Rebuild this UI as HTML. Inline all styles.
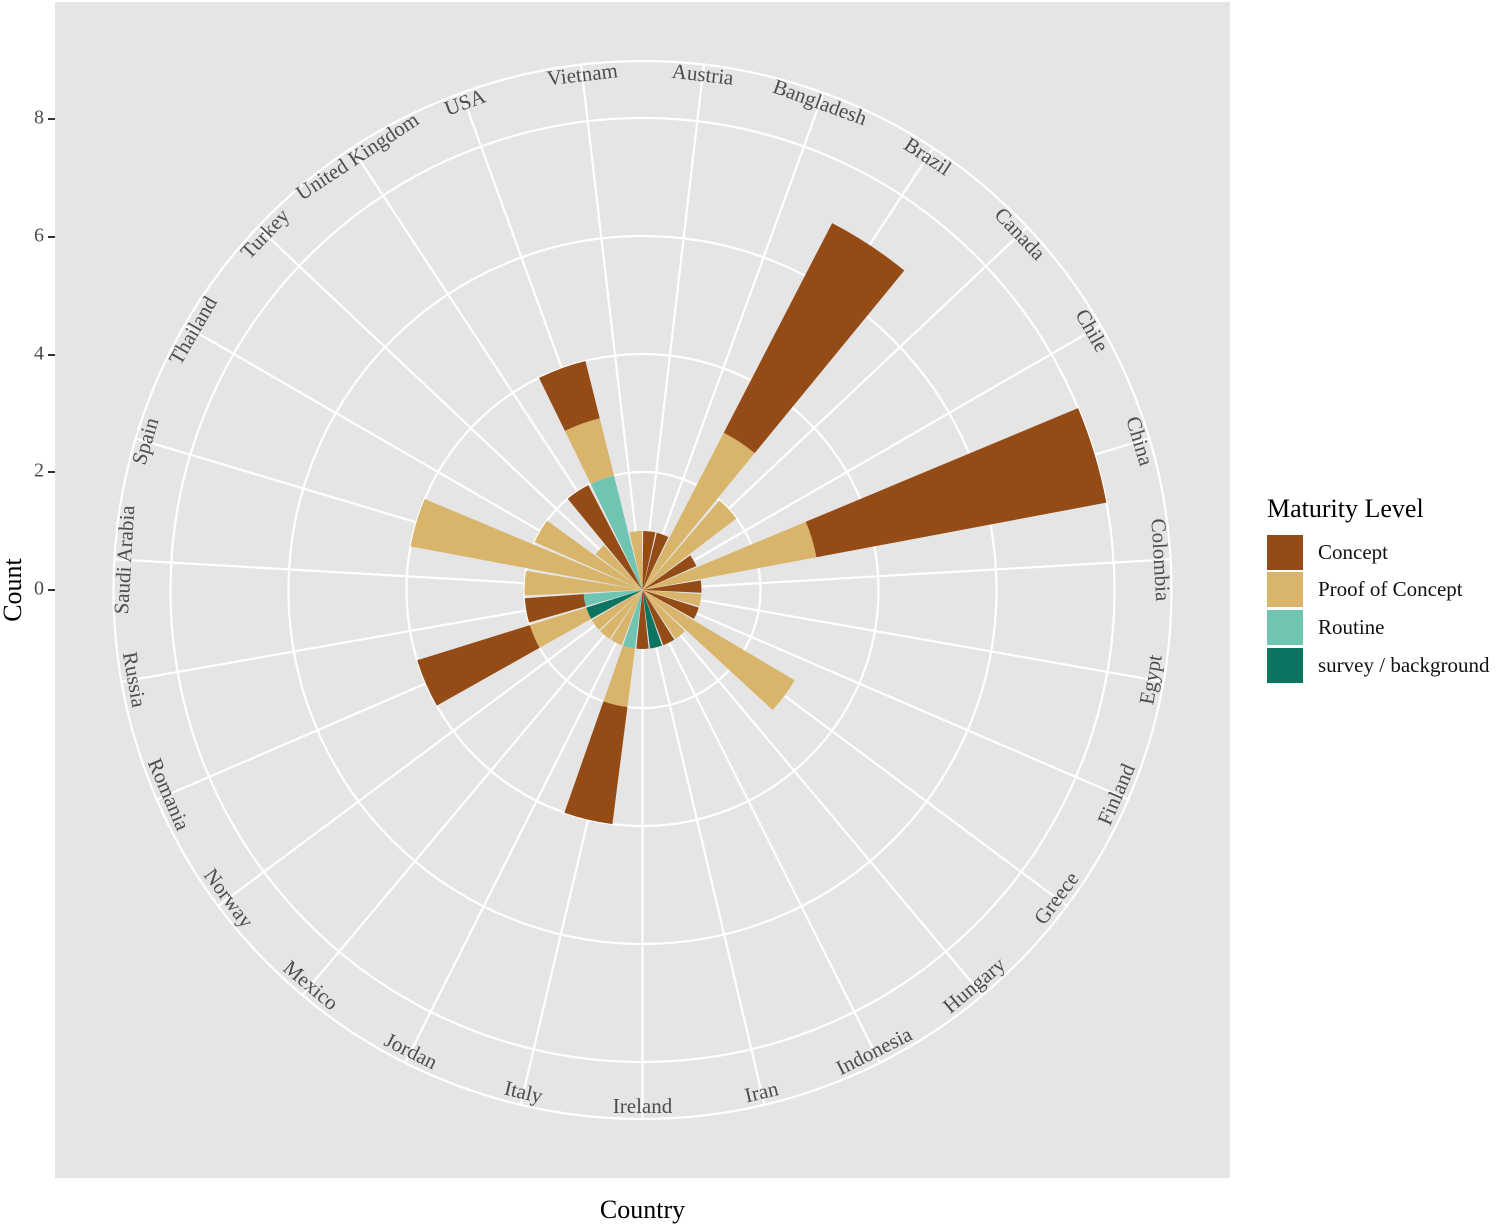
<!DOCTYPE html>
<html><head><meta charset="utf-8"><style>
html,body{margin:0;padding:0;background:#fff;}
svg{display:block;font-family:"Liberation Serif",serif;}
</style></head><body>
<svg id="s" width="1503" height="1226" viewBox="0 0 1503 1226" xmlns="http://www.w3.org/2000/svg">
<rect x="55" y="2" width="1175" height="1176" fill="#e5e5e5"/>
<g id="grid" stroke="#fff" fill="none" stroke-width="2.2">
<circle cx="642.5" cy="590" r="118"/>
<circle cx="642.5" cy="590" r="236"/>
<circle cx="642.5" cy="590" r="354"/>
<circle cx="642.5" cy="590" r="472"/>
<circle cx="642.5" cy="590" r="529"/>
</g>
<g id="spokes" stroke="#fff" stroke-width="2.2"></g>
<g id="bars"></g>
<g font-size="21" fill="#4d4d4d" text-anchor="middle" dominant-baseline="middle">
<text x="642.5" y="73" transform="rotate(6.667 642.5 590)">Austria</text>
<text x="642.5" y="73" transform="rotate(20 642.5 590)">Bangladesh</text>
<text x="642.5" y="73" transform="rotate(33.333 642.5 590)">Brazil</text>
<text x="642.5" y="73" transform="rotate(46.667 642.5 590)">Canada</text>
<text x="642.5" y="73" transform="rotate(60 642.5 590)">Chile</text>
<text x="642.5" y="73" transform="rotate(73.333 642.5 590)">China</text>
<text x="642.5" y="73" transform="rotate(86.667 642.5 590)">Colombia</text>
<text x="642.5" y="1108" transform="rotate(-80 642.5 590)">Egypt</text>
<text x="642.5" y="1108" transform="rotate(-66.667 642.5 590)">Finland</text>
<text x="642.5" y="1108" transform="rotate(-53.333 642.5 590)">Greece</text>
<text x="642.5" y="1108" transform="rotate(-40 642.5 590)">Hungary</text>
<text x="642.5" y="1108" transform="rotate(-26.667 642.5 590)">Indonesia</text>
<text x="642.5" y="1108" transform="rotate(-13.333 642.5 590)">Iran</text>
<text x="642.5" y="1108">Ireland</text>
<text x="642.5" y="1108" transform="rotate(13.333 642.5 590)">Italy</text>
<text x="642.5" y="1108" transform="rotate(26.667 642.5 590)">Jordan</text>
<text x="642.5" y="1108" transform="rotate(40 642.5 590)">Mexico</text>
<text x="642.5" y="1108" transform="rotate(53.333 642.5 590)">Norway</text>
<text x="642.5" y="1108" transform="rotate(66.667 642.5 590)">Romania</text>
<text x="642.5" y="1108" transform="rotate(80 642.5 590)">Russia</text>
<text x="642.5" y="73" transform="rotate(-86.667 642.5 590)">Saudi Arabia</text>
<text x="642.5" y="73" transform="rotate(-73.333 642.5 590)">Spain</text>
<text x="642.5" y="73" transform="rotate(-60 642.5 590)">Thailand</text>
<text x="642.5" y="73" transform="rotate(-46.667 642.5 590)">Turkey</text>
<text x="642.5" y="73" transform="rotate(-33.333 642.5 590)">United Kingdom</text>
<text x="642.5" y="73" transform="rotate(-20 642.5 590)">USA</text>
<text x="642.5" y="73" transform="rotate(-6.667 642.5 590)">Vietnam</text>
</g>
<g stroke="#333" stroke-width="2">
<line x1="48" y1="119" x2="55" y2="119"/><line x1="48" y1="237" x2="55" y2="237"/>
<line x1="48" y1="355" x2="55" y2="355"/><line x1="48" y1="472" x2="55" y2="472"/>
<line x1="48" y1="590" x2="55" y2="590"/>
</g>
<g font-size="20" fill="#4d4d4d" text-anchor="end" dominant-baseline="middle">
<text x="44" y="119">8</text><text x="44" y="237">6</text><text x="44" y="355">4</text>
<text x="44" y="472">2</text><text x="44" y="590">0</text>
</g>
<text x="642.5" y="1218" font-size="26" text-anchor="middle">Country</text>
<text x="0" y="0" font-size="26" text-anchor="middle" transform="translate(21 590) rotate(-90)">Count</text>
<text x="1267" y="517" font-size="26">Maturity Level</text>
<rect x="1267" y="535" width="36" height="35" fill="#944b16"/>
<rect x="1267" y="572" width="36" height="35" fill="#d8b56a"/>
<rect x="1267" y="610" width="36" height="35" fill="#6fc4b2"/>
<rect x="1267" y="648" width="36" height="35" fill="#0c7561"/>
<g font-size="21" fill="#111" dominant-baseline="middle">
<text x="1318" y="554">Concept</text>
<text x="1318" y="591">Proof of Concept</text>
<text x="1318" y="629">Routine</text>
<text x="1318" y="667">survey / background</text>
</g>
</svg>
<script>
(function(){
var cx=642.5,cy=590,k=59,n=27,NS="http://www.w3.org/2000/svg";
var col=["#0c7561","#6fc4b2","#d8b56a","#944b16"];
var d=[[0,0,0,1],[0,0,0,1],[0,0,3,4],[0,0,2,0],[0,0,0,1],[0,0,3,5],[0,0,0,1],[0,0,1,0],[0,0,0,1],[0,0,3,0],
[0,0,1,0],[0,0,0,1],[1,0,0,0],[0,0,0,1],[0,1,1,2],[0,0,1,0],[0,0,1,0],[0,0,1,0],[1,0,1,2],[0,1,0,1],
[0,0,2,0],[0,0,4,0],[0,0,2,0],[0,0,1,0],[0,0,0,2],[0,2,1,1],[0,0,1,0]];
function pt(a,r){var t=a*Math.PI/180;return [cx+r*Math.sin(t),cy-r*Math.cos(t)];}
var sp=document.getElementById("spokes"),bs=document.getElementById("bars");
for(var i=0;i<n;i++){
 var a=(i+0.5)*360/n,p=pt(a,529);
 var l=document.createElementNS(NS,"line");
 l.setAttribute("x1",cx);l.setAttribute("y1",cy);l.setAttribute("x2",p[0]);l.setAttribute("y2",p[1]);
 sp.appendChild(l);
 var a0=(i+0.05)*360/n,a1=(i+0.95)*360/n,r=0;
 for(var j=0;j<4;j++){
  if(!d[i][j])continue;
  var r0=r*k,r1=(r+d[i][j])*k;r+=d[i][j];
  var p1=pt(a0,r1),p2=pt(a1,r1),p3=pt(a1,r0),p4=pt(a0,r0);
  var s="M"+p4+"L"+p1+"A"+r1+","+r1+" 0 0 1 "+p2+"L"+p3;
  if(r0>0)s+="A"+r0+","+r0+" 0 0 0 "+p4;
  s+="Z";
  var e=document.createElementNS(NS,"path");
  e.setAttribute("d",s);e.setAttribute("fill",col[j]);
  bs.appendChild(e);
 }
}
})();
</script>
</body></html>
